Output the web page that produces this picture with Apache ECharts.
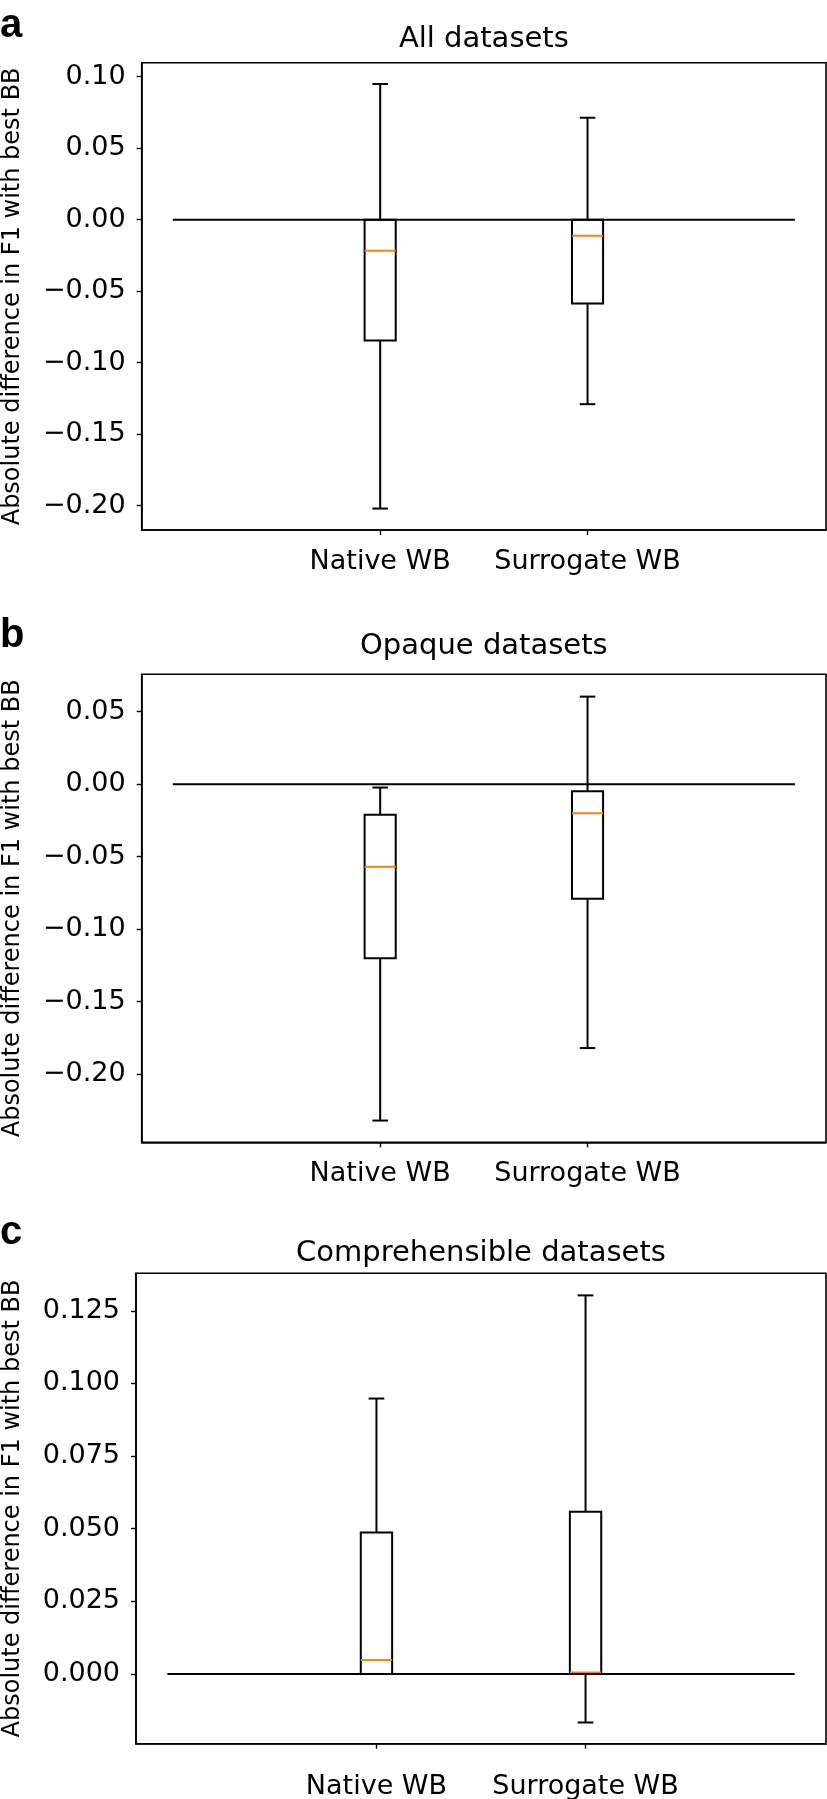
<!DOCTYPE html>
<html>
<head>
<meta charset="utf-8">
<script src="https://cdn.jsdelivr.net/npm/echarts@6/dist/echarts.min.js"></script>
<style>
  html, body { margin: 0; padding: 0; background: #fff; }
  #chart { width: 827px; height: 1799px; }
</style>
</head>
<body>
<div id="chart"></div>
<script>
// ---- data ----
const categories = ['Native WB', 'Surrogate WB'];
const positions = [1, 2];
const panelTitles = ['All datasets', 'Opaque datasets', 'Comprehensible datasets'];
const panelLetters = ['a', 'b', 'c'];
const yAxisName = 'Absolute difference in F1 with best BB';

// Panel a: All datasets
const allLow = [-0.202, -0.129];
const allQ1 = [-0.0845, -0.0586];
const allMedian = [-0.0217, -0.0112];
const allQ3 = [0.000, 0.000];
const allHigh = [0.0949, 0.0713];

// Panel b: Opaque datasets
const opaqueLow = [-0.232, -0.182];
const opaqueQ1 = [-0.120, -0.079];
const opaqueMedian = [-0.057, -0.020];
const opaqueQ3 = [-0.021, -0.0048];
const opaqueHigh = [-0.0023, 0.0604];

// Panel c: Comprehensible datasets
const compLow = [0.000, -0.0167];
const compQ1 = [0.000, 0.000];
const compMedian = [0.0048, 0.0005];
const compQ3 = [0.0487, 0.0558];
const compHigh = [0.0948, 0.1303];

// y ticks
const ticksA = [-0.20, -0.15, -0.10, -0.05, 0.00, 0.05, 0.10];
const ticksB = [-0.20, -0.15, -0.10, -0.05, 0.00, 0.05];
const ticksC = [0.000, 0.025, 0.050, 0.075, 0.100, 0.125];

// reference (zero) line across x from 0 to 3
const zeroLineX = [0, 3];
const boxWidth = 0.15;

// ---- helpers ----
const FONT = 'DejaVu Sans';
function fmt(dec) {
  return function (v) {
    const s = Math.abs(v).toFixed(dec);
    return (v < -1e-9 ? '\u2212' : '') + s;
  };
}
function boxData(low, q1, med, q3, high) {
  return positions.map((p, i) => [p, low[i], q1[i], med[i], q3[i], high[i]]);
}
function renderBox(params, api) {
  const x = api.value(0);
  const w = api.size([boxWidth, 0])[0];
  const pLo = api.coord([x, api.value(1)]);
  const pQ1 = api.coord([x, api.value(2)]);
  const pMed = api.coord([x, api.value(3)]);
  const pQ3 = api.coord([x, api.value(4)]);
  const pHi = api.coord([x, api.value(5)]);
  const cx = pMed[0];
  const black = { stroke: '#000', lineWidth: 2, fill: null };
  return {
    type: 'group',
    children: [
      { type: 'line', shape: { x1: cx, y1: pQ3[1], x2: cx, y2: pHi[1] }, style: black },
      { type: 'line', shape: { x1: cx, y1: pQ1[1], x2: cx, y2: pLo[1] }, style: black },
      { type: 'line', shape: { x1: cx - w / 4, y1: pHi[1], x2: cx + w / 4, y2: pHi[1] }, style: black },
      { type: 'line', shape: { x1: cx - w / 4, y1: pLo[1], x2: cx + w / 4, y2: pLo[1] }, style: black },
      { type: 'rect', shape: { x: cx - w / 2, y: pQ3[1], width: w, height: pQ1[1] - pQ3[1] }, style: { stroke: '#000', lineWidth: 2, fill: 'none' } },
      { type: 'line', shape: { x1: cx - w / 2, y1: pMed[1], x2: cx + w / 2, y2: pMed[1] }, style: { stroke: '#ff7f0e', lineWidth: 2 } }
    ]
  };
}

const grids = [
  { left: 141.7, right: 1, top: 62.7, height: 467.3 },
  { left: 141.7, right: 1, top: 674.3, height: 468 },
  { left: 136, right: 1, top: 1273.3, height: 470.4 }
];
const yRanges = [[-0.217, 0.1098], [-0.247, 0.0758], [-0.024, 0.1379]];
const yTicks = [ticksA, ticksB, ticksC];
const yDec = [2, 2, 3];
const xLabelMargin = [18, 18, 30];
const titleTops = [25, 632, 1239];
const letterTops = [6, 616, 1213];
const nameGaps = [117, 117, 111];

const option = {
  animation: false,
  backgroundColor: '#fff',
  title: [],
  grid: [],
  xAxis: [],
  yAxis: [],
  series: []
};

const allBoxes = [
  boxData(allLow, allQ1, allMedian, allQ3, allHigh),
  boxData(opaqueLow, opaqueQ1, opaqueMedian, opaqueQ3, opaqueHigh),
  boxData(compLow, compQ1, compMedian, compQ3, compHigh)
];

for (let i = 0; i < 3; i++) {
  const g = grids[i];
  option.grid.push(Object.assign({
    show: true, borderColor: '#000', borderWidth: 1.6, backgroundColor: 'transparent',
    containLabel: false, outerBoundsMode: 'none'
  }, g));
  const plotCenter = g.left + (827 - g.right - g.left) / 2;
  option.title.push({
    text: panelTitles[i], left: plotCenter, top: titleTops[i], textAlign: 'center', padding: 0,
    textStyle: { fontFamily: FONT, fontSize: 29, fontWeight: 'normal', color: '#000' }
  });
  option.title.push({
    text: panelLetters[i], left: 0, top: letterTops[i], padding: 0,
    textStyle: { fontFamily: 'Liberation Sans', fontSize: 40, fontWeight: 'bold', color: '#000' }
  });
  option.xAxis.push({
    type: 'value', gridIndex: i, min: -0.15, max: 3.15,
    axisLine: { show: true, onZero: false, lineStyle: { color: '#000', width: 1.6 } },
    axisTick: { show: true, customValues: positions, length: 5, lineStyle: { color: '#000', width: 1.4 } },
    axisLabel: {
      show: true, customValues: positions, margin: xLabelMargin[i],
      formatter: v => categories[positions.indexOf(Math.round(v))] || '',
      fontFamily: FONT, fontSize: 27, color: '#000'
    },
    splitLine: { show: false }
  });
  option.yAxis.push({
    type: 'value', gridIndex: i, min: yRanges[i][0], max: yRanges[i][1],
    name: yAxisName, nameLocation: 'middle', nameRotate: 90, nameGap: nameGaps[i],
    nameMoveOverlap: false,
    nameTextStyle: { fontFamily: FONT, fontSize: 24, color: '#000' },
    axisLine: { show: true, onZero: false, lineStyle: { color: '#000', width: 1.6 } },
    axisTick: { show: true, customValues: yTicks[i], length: 5, lineStyle: { color: '#000', width: 1.4 } },
    axisLabel: {
      show: true, customValues: yTicks[i], margin: 16,
      formatter: fmt(yDec[i]), fontFamily: FONT, fontSize: 27, color: '#000'
    },
    splitLine: { show: false }
  });
  option.series.push({
    type: 'line', xAxisIndex: i, yAxisIndex: i,
    data: zeroLineX.map(x => [x, 0]),
    showSymbol: false, symbol: 'none',
    lineStyle: { color: '#000', width: 2 },
    z: 3
  });
  option.series.push({
    type: 'custom', xAxisIndex: i, yAxisIndex: i,
    data: allBoxes[i],
    renderItem: renderBox,
    z: 2
  });
}

const chart = echarts.init(document.getElementById('chart'), null, { renderer: 'canvas' });
chart.setOption(option);
</script>
</body>
</html>
